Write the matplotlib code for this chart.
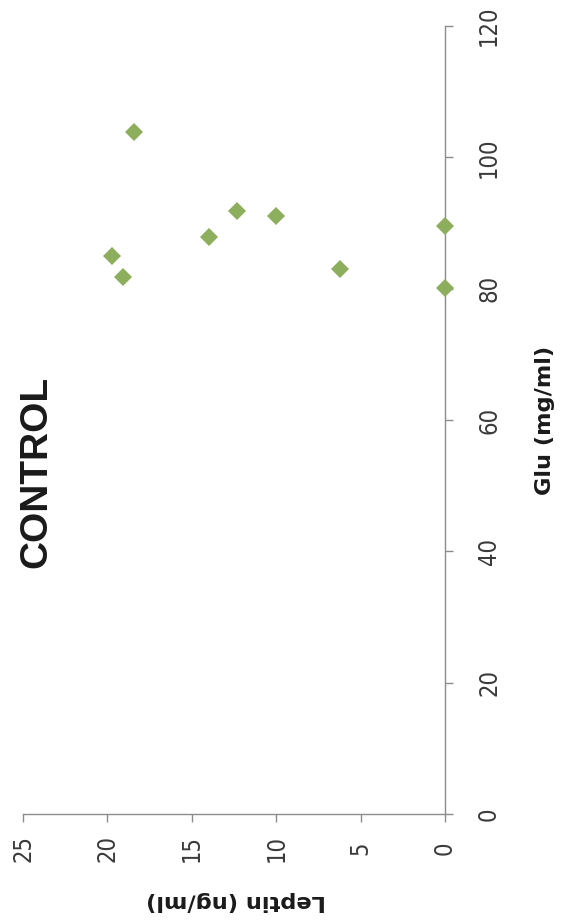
import matplotlib
matplotlib.use("Agg")
import matplotlib.pyplot as plt

# Control group: leptin vs. glucose
leptin = [18.4, 19.7, 19.1, 14.0, 12.3, 10.0, 6.2, 0.0, 0.0]
glu = [103.8, 84.9, 81.8, 87.9, 91.9, 91.0, 83.0, 89.5, 80.1]

leptin_ticks = [0, 5, 10, 15, 20, 25]
glu_ticks = [0, 20, 40, 60, 80, 100, 120]

W, H = 562, 924
fig = plt.figure(figsize=(W / 100, H / 100), dpi=100)
fig.patch.set_facecolor("white")

# The chart is laid out turned a quarter turn: leptin runs right-to-left
# along the bottom, glucose runs upward along the right-hand axis.
ax = fig.add_axes([23 / W, 110 / H, 422 / W, 788 / H])
ax.set_xlim(25, 0)
ax.set_ylim(0, 120)

ax.plot(leptin, glu, linestyle="none", marker="D", markersize=9.4,
        color="#8DAE5C", markeredgewidth=0, clip_on=False, zorder=3)

for side in ("left", "top"):
    ax.spines[side].set_visible(False)
for side in ("bottom", "right"):
    ax.spines[side].set_color("#8c8c8c")
    ax.spines[side].set_linewidth(1.0)

ax.yaxis.tick_right()
ax.yaxis.set_label_position("right")
ax.set_xticks(leptin_ticks)
ax.set_yticks(glu_ticks)

tick_font = dict(family="DejaVu Sans", stretch="condensed", size=17)
ax.set_xticklabels([str(t) for t in leptin_ticks], rotation=90,
                   va="center", ha="center", color="#3a3a3a", **tick_font)
ax.set_yticklabels([str(t) for t in glu_ticks], rotation=90,
                   va="center", ha="center", color="#3a3a3a", **tick_font)

ax.tick_params(axis="x", direction="out", length=5.8, width=1.0,
               color="#8c8c8c", pad=18.7)
ax.tick_params(axis="y", direction="out", length=5.8, width=1.0,
               color="#8c8c8c", pad=25.9)

title_font = dict(family="DejaVu Sans", weight="bold", size=16.2, color="#1a1a1a")
ax.set_xlabel("Leptin (ng/ml)", rotation=180, va="center", ha="center", **title_font)
ax.xaxis.set_label_coords((236 - 23) / 422, (814 - 901) / 788)
ax.set_ylabel("Glu (mg/ml)", rotation=90, va="center", ha="center", **title_font)
ax.yaxis.set_label_coords((545 - 23) / 422, 0.5)

fig.text(36 / W, 1 - 472 / H, "CONTROL", rotation=90, ha="center", va="center",
         family="Liberation Sans", weight="bold", size=28, color="#1a1a1a")

fig.savefig("out.png", dpi=100, facecolor="white")
